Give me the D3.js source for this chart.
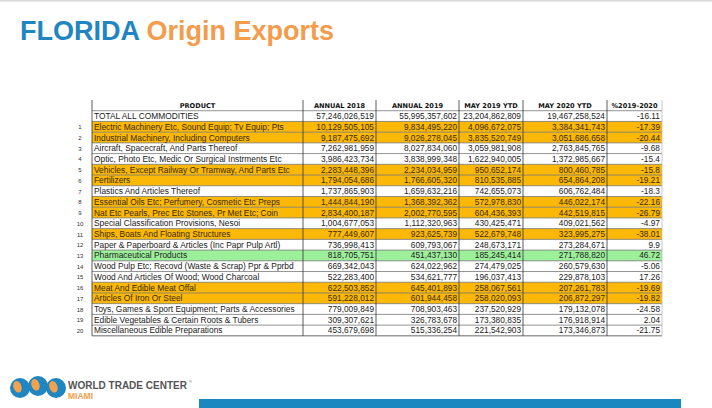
<!DOCTYPE html>
<html><head><meta charset="utf-8">
<script src="https://cdn.jsdelivr.net/npm/d3@7"></script>
<style>html,body{margin:0;padding:0;background:#fff;}</style>
</head><body><div id="chart"></div>
<script>
const products = ["TOTAL ALL COMMODITIES","Electric Machinery Etc, Sound Equip; Tv Equip; Pts","Industrial Machinery, Including Computers","Aircraft, Spacecraft, And Parts Thereof","Optic, Photo Etc, Medic Or Surgical Instrments Etc","Vehicles, Except Railway Or Tramway, And Parts Etc","Fertilizers","Plastics And Articles Thereof","Essential Oils Etc; Perfumery, Cosmetic Etc Preps","Nat Etc Pearls, Prec Etc Stones, Pr Met Etc; Coin","Special Classification Provisions, Nesoi","Ships, Boats And Floating Structures","Paper & Paperboard & Articles (Inc Papr Pulp Artl)","Pharmaceutical Products","Wood Pulp Etc; Recovd (Waste & Scrap) Ppr & Pprbd","Wood And Articles Of Wood; Wood Charcoal","Meat And Edible Meat Offal","Articles Of Iron Or Steel","Toys, Games & Sport Equipment; Parts & Accessories","Edible Vegetables & Certain Roots & Tubers","Miscellaneous Edible Preparations"];
const rank = ["",1,2,3,4,5,6,7,8,9,10,11,12,13,14,15,16,17,18,19,20];
const annual2018 = [57246026519,10129505105,9187475692,7262981959,3986423734,2283448396,1794054686,1737865903,1444844190,2834400187,1004677053,777449607,736998413,818705751,669342043,522283400,622503852,591228012,779009849,309307621,453679698];
const annual2019 = [55995357602,9834495220,9026278045,8027834060,3838999348,2234034959,1766605320,1659632216,1368392362,2002770595,1112320963,923625739,609793067,451437130,624022962,534621777,645401893,601944458,708903463,326783678,515336254];
const may2019 = [23204862809,4096672075,3835520749,3059981908,1622940005,950652174,810535885,742655073,572978830,604436393,430425471,522679748,248673171,185245414,274479025,196037413,258067561,258020093,237520929,173380835,221542903];
const may2020 = [19467258524,3384341743,3051686658,2763845765,1372985667,800460785,654864208,606762484,446022174,442519815,409021562,323995275,273284671,271788820,260579630,229878103,207261783,206872297,179132078,176918914,173346873];
const pctChange = ["-16.11","-17.39","-20.44","-9.68","-15.4","-15.8","-19.21","-18.3","-22.16","-26.79","-4.97","-38.01","9.9","46.72","-5.06","17.26","-19.69","-19.82","-24.58","2.04","-21.75"];
const highlight = ["","o","o","","","o","o","","o","o","","o","","g","","","o","o","","",""];
const headers = ["PRODUCT","ANNUAL 2018","ANNUAL 2019","MAY 2019 YTD","MAY 2020 YTD","%2019-2020"];

const W = 712, H = 408;
const svg = d3.select("#chart").append("svg").attr("width", W).attr("height", H)
  .style("font-family","'Liberation Sans', Arial, sans-serif");

// top rule
svg.append("rect").attr("x",0).attr("y",0).attr("width",W).attr("height",1.5).attr("fill","#d8d8d8");

// title
const title = svg.append("text").attr("x",20).attr("y",40)
  .style("font-size","27px").style("font-weight","bold");
title.append("tspan").attr("fill","#1f86c1").text("FLORIDA ");
title.append("tspan").attr("fill","#f29c4c").text("Origin Exports");

// table geometry
const colEdges = [92,303,376,459,523,607,662];
const headerTop = 100, rowH = 10.72;
const y = d3.scaleBand().domain(d3.range(products.length)).range([headerTop+rowH, headerTop+rowH*(products.length+1)]).paddingInner(0).paddingOuter(0);
const x0 = colEdges[0], x1 = colEdges[colEdges.length-1];
const fmt = d3.format(",");

const g = svg.append("g");
// highlights
const colors = {o:"#fbb806", g:"#9cf09a"};
g.selectAll("rect.hl").data(d3.range(products.length).filter(i=>highlight[i])).join("rect")
  .attr("x",x0).attr("y",i=>y(i)).attr("width",x1-x0).attr("height",y.bandwidth())
  .attr("fill",i=>colors[highlight[i]]);

// horizontal lines
const hl = d3.range(products.length+1).map(i=> headerTop+rowH*(i+1));
g.selectAll("line.h").data(hl).join("line")
  .attr("x1",x0).attr("x2",x1).attr("y1",d=>d).attr("y2",d=>d)
  .attr("stroke",(d,i)=> i===products.length ? "#444" : "#777").attr("stroke-width",0.8);
// vertical lines
g.selectAll("line.v").data(colEdges).join("line")
  .attr("x1",d=>d).attr("x2",d=>d).attr("y1",headerTop).attr("y2",headerTop+rowH*(products.length+1))
  .attr("stroke",(d,i)=> i===colEdges.length-1 ? "#bbb" : "#333").attr("stroke-width",0.8);

// headers
g.selectAll("text.hdr").data(headers).join("text")
  .attr("x",(d,i)=>(colEdges[i]+colEdges[i+1])/2).attr("y",headerTop+rowH/2+2.4)
  .attr("text-anchor","middle").style("font-family","'DejaVu Sans', Verdana, sans-serif")
  .style("font-size","6.6px").style("font-weight","bold").attr("fill","#111").text(d=>d);

const tY = i => y(i)+y.bandwidth()/2+3;
// rank
g.selectAll("text.rk").data(rank).join("text").attr("x",80).attr("y",(d,i)=>tY(i)-0.5)
  .attr("text-anchor","middle").style("font-size","6px").attr("fill","#333").text(d=>d);
// products
g.selectAll("text.pr").data(products).join("text").attr("x",x0+2).attr("y",(d,i)=>tY(i))
  .style("font-size","8.4px").attr("fill",(d,i)=>highlight[i]==="o"?"#3a2a00":"#222").text(d=>d);
const numCols = [annual2018, annual2019, may2019, may2020];
numCols.forEach((arr,c)=>{
  g.append("g").selectAll("text").data(arr).join("text")
    .attr("x",colEdges[c+2]-2).attr("y",(d,i)=>tY(i)).attr("text-anchor","end")
    .style("font-size","8.3px").attr("fill",(d,i)=>highlight[i]==="o"?"#3a2a00":"#222").text(d=>fmt(d));
});
g.append("g").selectAll("text").data(pctChange).join("text")
  .attr("x",colEdges[6]-2).attr("y",(d,i)=>tY(i)).attr("text-anchor","end")
  .style("font-size","8.3px").attr("fill",(d,i)=>highlight[i]==="o"?"#3a2a00":"#222").text(d=>d);

// logo
const logo = svg.append("g");
const globes = [[20,388],[38,386],[56,388]];
logo.selectAll("circle").data(globes).join("circle").attr("cx",d=>d[0]).attr("cy",d=>d[1]).attr("r",10)
  .attr("fill","#1f86c1");
logo.selectAll("ellipse").data(globes).join("ellipse").attr("cx",d=>d[0]-2).attr("cy",d=>d[1]-2)
  .attr("rx",4).attr("ry",6).attr("fill","#f2a14e").attr("transform",d=>`rotate(-20 ${d[0]} ${d[1]})`);
logo.append("text").attr("x",68).attr("y",389).style("font-size","10px").style("font-weight","bold")
  .attr("fill","#555").text("WORLD TRADE CENTER");
logo.append("text").attr("x",189).attr("y",383).style("font-size","4px").attr("fill","#555").text("®");
logo.append("text").attr("x",68).attr("y",399).style("font-size","8.5px").style("font-weight","bold")
  .attr("fill","#f2a14e").text("MIAMI");

// bottom bar
svg.append("rect").attr("x",199).attr("y",399).attr("width",482).attr("height",9).attr("fill","#1a87c0");
</script></body></html>
